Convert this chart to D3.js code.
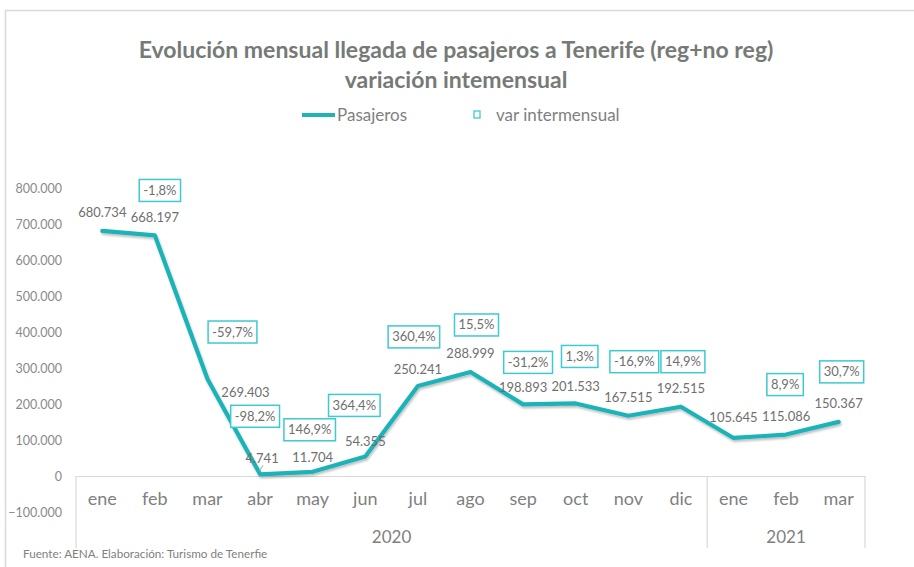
<!DOCTYPE html>
<html><head><meta charset="utf-8">
<script src="https://cdn.jsdelivr.net/npm/d3@7"></script>
<style>body{margin:0;background:#fff}svg{display:block}text{font-family:Lato,"Noto Sans",sans-serif}</style>
</head><body>
<svg id="chart" width="914" height="567"></svg>
<script>
// ---- data ----
const months = ["ene","feb","mar","abr","may","jun","jul","ago","sep","oct","nov","dic","ene","feb","mar"];
const years = ["2020","2021"];
const yearIndex = [0,0,0,0,0,0,0,0,0,0,0,0,1,1,1];
const pasajeros = [680734,668197,269403,4741,11704,54355,250241,288999,198893,201533,167515,192515,105645,115086,150367];
const varIntermensual = [null,"-1,8%","-59,7%","-98,2%","146,9%","364,4%","360,4%","15,5%","-31,2%","1,3%","-16,9%","14,9%",null,"8,9%","30,7%"];
const yTicks = [-100000,0,100000,200000,300000,400000,500000,600000,700000,800000];
const title1 = "Evolución mensual llegada de pasajeros a Tenerife (reg+no reg)";
const title2 = "variación intemensual";
const source = "Fuente: AENA. Elaboración: Turismo de Tenerfie";

// ---- label layout (pixel offsets from each point) ----
const valDx = [0,0,38,2,0,0,0,0,0,0,0,0,0,0,0];
const valDy = [-18,-18,13,-16,-14,-15,-16,-18,-17,-17,-18,-18,-20,-18,-18];
const varDx = [0,5,25,-5,-3,-11,-4,6,5,4,6,2,0,-1,3];
const varDy = [0,-45,-47,-58,-42,-51,-49,-47,-42,-47,-54,-45,0,-50,-50];

const svg = d3.select("#chart");
const teal = "#1fb3b8", boxCol = "#3fc9d1", grey = "#7f7f7f", axisGrey = "#d9d9d9";

// frame
svg.append("rect").attr("x",5.5).attr("y",10.5).attr("width",1200).attr("height",1200)
  .attr("fill","#fff").attr("stroke","#d9d9d9").attr("stroke-width",1.5);

// defs shadow
const defs = svg.append("defs");
const f = defs.append("filter").attr("id","sh").attr("x","-5%").attr("y","-5%").attr("width","110%").attr("height","120%");
f.append("feDropShadow").attr("dx",1).attr("dy",2).attr("stdDeviation",1.2).attr("flood-color","#000").attr("flood-opacity",0.25);

// title
svg.append("text").attr("x",456).attr("y",58).attr("text-anchor","middle")
  .attr("font-size",23).attr("font-weight","bold").attr("fill","#767a76").text(title1);
svg.append("text").attr("x",456).attr("y",88).attr("text-anchor","middle")
  .attr("font-size",23).attr("font-weight","bold").attr("fill","#767a76").text(title2);

// legend
svg.append("line").attr("x1",302).attr("x2",335).attr("y1",115).attr("y2",115)
  .attr("stroke",teal).attr("stroke-width",4);
svg.append("text").attr("x",337).attr("y",121).attr("font-size",17).attr("fill",grey).text("Pasajeros");
svg.append("rect").attr("x",474).attr("y",111).attr("width",6).attr("height",7)
  .attr("fill","#fff").attr("stroke",boxCol).attr("stroke-width",1.3);
svg.append("text").attr("x",496).attr("y",121).attr("font-size",17).attr("fill",grey).text("var intermensual");

// scales
const x = d3.scaleBand().domain(d3.range(months.length)).range([76,865]).padding(0);
const y = d3.scaleLinear().domain([-100000,800000]).range([512,188]);
const loc = d3.formatLocale({decimal:",",thousands:".",grouping:[3],currency:["","€"]});
const fmt = loc.format(",d");
const cx = i => x(i) + x.bandwidth()/2;

// y axis
const yAxis = svg.append("g").attr("transform","translate(62,0)")
  .call(d3.axisLeft(y).tickValues(yTicks).tickFormat(fmt).tickSize(0).tickPadding(0));
yAxis.select(".domain").remove();
yAxis.selectAll("text").attr("font-size",12.5).attr("fill","#8a8a8a").attr("font-family","Lato,'Noto Sans',sans-serif");

// x axis (category axis at zero)
const xAxis = svg.append("g").attr("transform",`translate(0,${y(0)})`)
  .call(d3.axisBottom(x).tickFormat(i => months[i]).tickSize(0).tickPadding(16));
xAxis.select(".domain").attr("stroke",axisGrey).attr("stroke-width",1.2);
xAxis.selectAll("text").attr("font-size",18).attr("fill",grey).attr("font-family","Lato,'Noto Sans',sans-serif");

// year group separators and labels
const groupBounds = years.map((yr,k) => {
  const idx = d3.range(months.length).filter(i => yearIndex[i] === k);
  return {yr, x0: x(idx[0]), x1: x(idx[idx.length-1]) + x.bandwidth()};
});
const y0 = y(0);
const sepXs = [groupBounds[0].x0, ...groupBounds.map(g => g.x1)];
svg.selectAll("line.sep").data(sepXs).join("line").attr("class","sep")
  .attr("x1",d=>d).attr("x2",d=>d).attr("y1",y0).attr("y2",548)
  .attr("stroke",axisGrey).attr("stroke-width",1.2);
svg.selectAll("text.yr").data(groupBounds).join("text").attr("class","yr")
  .attr("x",d=>(d.x0+d.x1)/2).attr("y",543).attr("text-anchor","middle")
  .attr("font-size",17).attr("fill",grey).text(d=>d.yr);

// line
const line = d3.line().x((d,i)=>cx(i)).y(d=>y(d)).curve(d3.curveLinear);
svg.append("path").datum(pasajeros).attr("d",line).attr("fill","none")
  .attr("stroke",teal).attr("stroke-width",4.2).attr("stroke-linejoin","round").attr("stroke-linecap","round")
  .attr("filter","url(#sh)");

// leader line for abr label
svg.append("line").attr("x1",cx(3)-1).attr("y1",y(pasajeros[3])-3).attr("x2",cx(3)+3).attr("y2",y(pasajeros[3])-9)
  .attr("stroke","#a6a6a6").attr("stroke-width",1);

// value labels
svg.selectAll("text.val").data(pasajeros).join("text").attr("class","val")
  .attr("x",(d,i)=>cx(i)+valDx[i]).attr("y",(d,i)=>y(d)+valDy[i]+4.5)
  .attr("text-anchor","middle").attr("font-size",13).attr("fill","#6f6f6f").text(d=>fmt(d));

// var labels in boxes
const vg = svg.selectAll("g.var").data(varIntermensual.map((v,i)=>({v,i})).filter(d=>d.v))
  .join("g").attr("class","var")
  .attr("transform",d=>`translate(${cx(d.i)+varDx[d.i]},${y(pasajeros[d.i])+varDy[d.i]})`);
vg.append("rect").attr("fill","#fff").attr("stroke",boxCol).attr("stroke-width",1.5);
vg.append("text").attr("text-anchor","middle").attr("y",4.5).attr("font-size",13).attr("fill","#6f6f6f").text(d=>d.v);
vg.each(function(){
  const g = d3.select(this);
  const bb = g.select("text").node().getBBox();
  g.select("rect").attr("x",-bb.width/2-4).attr("y",-11).attr("width",bb.width+8).attr("height",22);
});

// source
svg.append("text").attr("x",23).attr("y",558).attr("font-size",11.7).attr("fill","#7f7f7f").text(source);
</script>
</body></html>
